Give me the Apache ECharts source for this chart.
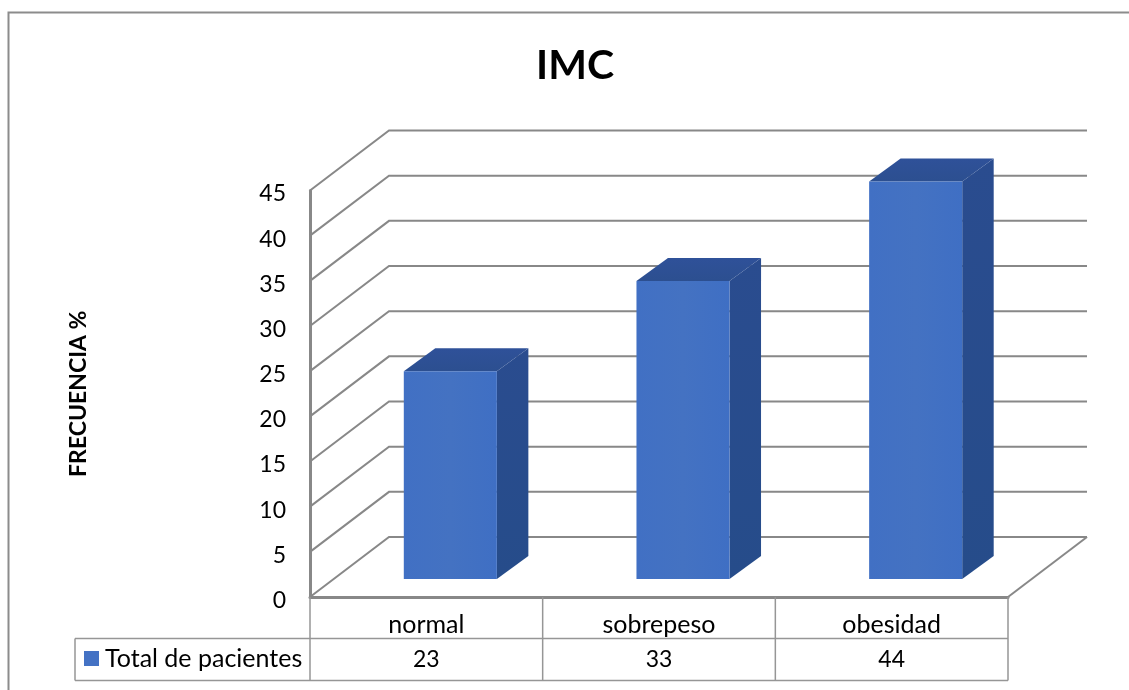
<!DOCTYPE html>
<html>
<head>
<meta charset="utf-8">
<style>html,body{margin:0;padding:0;background:#fff}#c{width:1129px;height:690px}</style>
<script src="https://cdn.jsdelivr.net/npm/echarts@6/dist/echarts.min.js"></script>
</head>
<body>
<div id="c"></div>
<script>
const categories = ['normal', 'sobrepeso', 'obesidad'];
const values = [23, 33, 44];
const yTicks = [0, 5, 10, 15, 20, 25, 30, 35, 40, 45];
const titleText = 'IMC';
const yAxisTitle = 'FRECUENCIA %';
const seriesName = 'Total de pacientes';

const FONT = 'Lato';
const GRID = {left: 310, right: 121, top: 190.5, bottom: 93};
const WALL = {dx: 79, dy: 60};
const BAR = {dx: 24, dy: 18, depthX: 31.5, depthY: 23, widthRatio: 0.4};
const LINE = '#888888';
const TABLE = {rowBottom: 638.5, tableBottom: 680.5, legendLeft: 75};

const chart = echarts.init(document.getElementById('c'), null, {renderer: 'canvas'});

function wallLine(params, api) {
  const v = api.value(0);
  const p = api.coord([0, v]);
  const x0 = params.coordSys.x;
  const xR = x0 + params.coordSys.width;
  const y = p[1];
  const children = [{
    type: 'polyline',
    shape: {points: [[x0, y], [x0 + WALL.dx, y - WALL.dy], [xR + WALL.dx, y - WALL.dy]]},
    style: {stroke: LINE, fill: null, lineWidth: 2}
  }];
  if (v === 0) {
    children.push({
      type: 'line',
      shape: {x1: xR, y1: y, x2: xR + WALL.dx, y2: y - WALL.dy},
      style: {stroke: LINE, lineWidth: 2}
    });
  }
  return {type: 'group', children};
}

function bar3d(params, api) {
  const idx = api.value(0);
  const v = api.value(1);
  const top = api.coord([idx, v]);
  const base = api.coord([idx, 0]);
  const band = api.size([1, 0])[0];
  const w = band * BAR.widthRatio;
  const l = top[0] - w / 2 + BAR.dx;
  const r = l + w;
  const t = top[1] - BAR.dy;
  const b = base[1] - BAR.dy;
  const dx = BAR.depthX, dy = BAR.depthY;
  return {
    type: 'group',
    children: [
      {type: 'polygon',
       shape: {points: [[r, t], [r + dx, t - dy], [r + dx, b - dy], [r, b]]},
       style: {fill: new echarts.graphic.LinearGradient(0, 0, 0, 1, [
         {offset: 0, color: '#2a4c8f'}, {offset: 1, color: '#264c8a'}])}},
      {type: 'polygon',
       shape: {points: [[l, t], [l + dx, t - dy], [r + dx, t - dy], [r, t]]},
       style: {fill: new echarts.graphic.LinearGradient(0, 0, 0, 1, [
         {offset: 0, color: '#2f5199'}, {offset: 1, color: '#2c4f90'}])}},
      {type: 'rect',
       shape: {x: l, y: t, width: w, height: b - t},
       style: {fill: new echarts.graphic.LinearGradient(0, 0, 1, 0, [
         {offset: 0, color: '#4170c4'}, {offset: 0.5, color: '#4472c2'}, {offset: 1, color: '#3f6fc4'}])}}
    ]
  };
}

function tableLines(params, api) {
  const x0 = params.coordSys.x;
  const xR = x0 + params.coordSys.width;
  const band = api.size([1, 0])[0];
  const yB = params.coordSys.y + params.coordSys.height;
  const s = {stroke: '#969696', lineWidth: 1.5};
  const seg = (x1, y1, x2, y2) => ({type: 'line', shape: {x1, y1, x2, y2}, style: s});
  const kids = [
    seg(TABLE.legendLeft, TABLE.rowBottom, xR, TABLE.rowBottom),
    seg(TABLE.legendLeft, TABLE.tableBottom, xR, TABLE.tableBottom),
    seg(TABLE.legendLeft, TABLE.rowBottom, TABLE.legendLeft, TABLE.tableBottom)
  ];
  for (let i = 0; i <= categories.length; i++) {
    const x = x0 + band * i;
    kids.push(seg(x, yB, x, TABLE.tableBottom));
  }
  return {type: 'group', children: kids};
}

chart.setOption({
  animation: false,
  backgroundColor: '#fff',
  textStyle: {fontFamily: FONT},
  title: {
    text: titleText, left: 570, top: 40, textAlign: 'center',
    textStyle: {fontFamily: FONT, fontSize: 41, fontWeight: 'bold', color: '#000'}
  },
  legend: {
    data: [{name: seriesName, icon: 'rect', itemStyle: {color: '#4472c4'}}],
    left: 84, top: 646, itemWidth: 15, itemHeight: 15, itemGap: 5, padding: 0,
    textStyle: {fontFamily: FONT, fontSize: 25, color: '#000', padding: [0, 0, 0, 1]}
  },
  graphic: [
    {type: 'polyline', silent: true,
     shape: {points: [[8.5, 690], [8.5, 12.5], [1129, 12.5]]},
     style: {stroke: '#8c8c8c', fill: null, lineWidth: 2}}
  ],
  grid: GRID,
  xAxis: [
    {type: 'category', data: categories, position: 'bottom',
     axisLine: {show: true, lineStyle: {color: LINE, width: 3}}, axisTick: {show: false},
     axisLabel: {color: '#000', fontFamily: FONT, fontSize: 25, margin: 15}},
    {type: 'category', data: values.map(String), position: 'bottom', offset: 35,
     axisLine: {show: false}, axisTick: {show: false},
     axisLabel: {color: '#000', fontFamily: FONT, fontSize: 23, margin: 16}}
  ],
  yAxis: {
    type: 'value', min: 0, max: 45, interval: 5,
    name: yAxisTitle, nameLocation: 'middle', nameGap: 220, nameRotate: 90,
    nameTextStyle: {color: '#000', fontFamily: FONT, fontSize: 23, fontWeight: 'bold'},
    axisLine: {show: true, lineStyle: {color: LINE, width: 3}}, axisTick: {show: false},
    splitLine: {show: false},
    axisLabel: {color: '#000', fontFamily: FONT, margin: 24,
      formatter: v => yTicks.includes(v) ? '{t|' + v + '}' : '',
      rich: {t: {color: '#000', fontFamily: FONT, fontSize: 23, padding: [7, 0, 0, 0]}}}
  },
  series: [
    {type: 'custom', silent: true, clip: false, z: 1, renderItem: wallLine,
     data: yTicks.map(v => [v]), encode: {y: 0}},
    {type: 'custom', silent: true, clip: false, z: 2, renderItem: tableLines,
     data: [[0, 0]], encode: {x: 0, y: 1}},
    {type: 'custom', name: seriesName, silent: true, clip: false, z: 3, renderItem: bar3d,
     itemStyle: {color: '#4472c4'},
     data: values.map((v, i) => [i, v]), encode: {x: 0, y: 1}}
  ]
});
</script>
</body>
</html>
